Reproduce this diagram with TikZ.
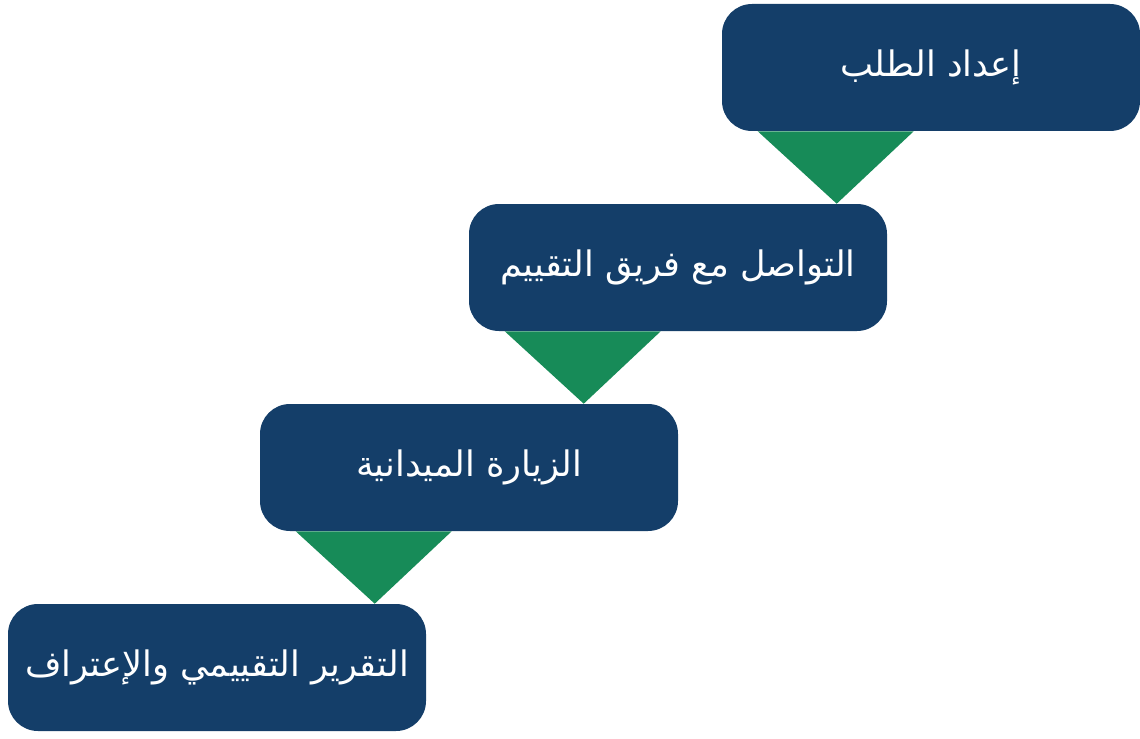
\documentclass[tikz,border=0pt]{standalone}
\usepackage{fontspec}
\usepackage{tikz}
\usetikzlibrary{positioning}
\newfontfamily\arabicfont[Script=Arabic]{DejaVu Sans}
\TeXXeTstate=1
\definecolor{stepblue}{RGB}{20,62,105}
\definecolor{stepgreen}{RGB}{23,139,88}
\tikzset{
  stepbox/.style={draw=none,fill=stepblue,rounded corners=0.75cm,minimum width=10.45cm,minimum height=3.175cm,text=white,font=\arabicfont\fontsize{25}{30}\selectfont},
  steptri/.style={fill=stepgreen}
}

\begin{document}
\begin{tikzpicture}
\useasboundingbox (0,0) rectangle (28.5,-18.45);
\node[stepbox] (a) at (23.275,-1.6875) {\beginR إعداد الطلب\endR};
\node[stepbox] (b) at (16.95,-6.6875) {\beginR التواصل مع فريق التقييم\endR};
\node[stepbox] (c) at (11.725,-11.6875) {\beginR الزيارة الميدانية\endR};
\node[stepbox] (d) at (5.425,-16.6875) {\beginR التقرير التقييمي والإعتراف\endR};
\fill[steptri] ([xshift=0.9cm]a.south west) -- ([xshift=4.8cm]a.south west) -- ([xshift=2.875cm]a.south west |- b.north) -- cycle;
\fill[steptri] ([xshift=0.9cm]b.south west) -- ([xshift=4.8cm]b.south west) -- ([xshift=2.875cm]b.south west |- c.north) -- cycle;
\fill[steptri] ([xshift=0.9cm]c.south west) -- ([xshift=4.8cm]c.south west) -- ([xshift=2.875cm]c.south west |- d.north) -- cycle;
\end{tikzpicture}
\end{document}
